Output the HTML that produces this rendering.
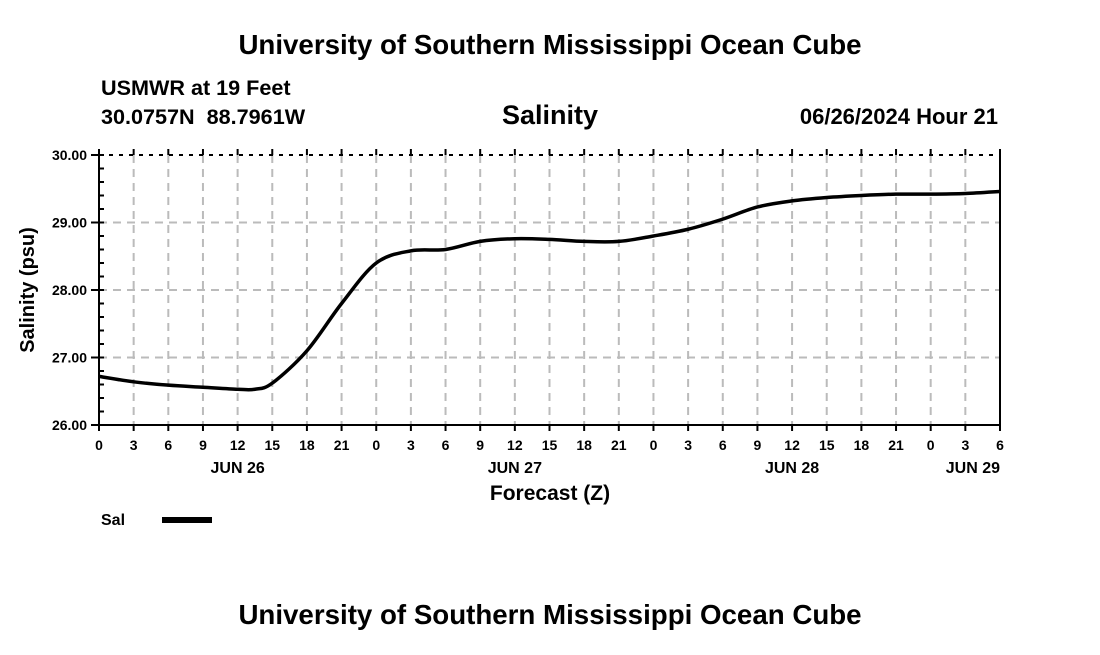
<!DOCTYPE html>
<html><head><meta charset="utf-8"><style>
body{margin:0;background:#fff;width:1100px;height:650px;overflow:hidden;font-family:"Liberation Sans",sans-serif}
</style></head><body>
<svg id="c" width="1100" height="650" font-family="Liberation Sans, sans-serif" font-weight="bold">
<text x="550" y="54" text-anchor="middle" font-size="27.7">University of Southern Mississippi Ocean Cube</text>
<text x="101" y="95" font-size="21.6">USMWR at 19 Feet</text>
<text x="101" y="124" font-size="21.6" xml:space="preserve">30.0757N  88.7961W</text>
<text x="550" y="124" text-anchor="middle" font-size="27">Salinity</text>
<text x="998" y="124" text-anchor="end" font-size="22">06/26/2024 Hour 21</text>
<text x="550" y="500" text-anchor="middle" font-size="21">Forecast (Z)</text>
<text transform="translate(34,290) rotate(-90)" text-anchor="middle" font-size="20">Salinity (psu)</text>
<text x="101" y="525" font-size="16">Sal</text>
<rect x="162" y="517" width="50" height="6" fill="#000"/>
<text x="550" y="624" text-anchor="middle" font-size="27.7">University of Southern Mississippi Ocean Cube</text>
<g id="g"></g>
</svg>
<script>
const hours=[0,3,6,9,12,13.5,15,18,21,24,27,30,33,36,39,42,45,48,51,54,57,60,63,66,69,72,75,78];
const sal=[26.72,26.64,26.59,26.56,26.53,26.53,26.62,27.1,27.8,28.4,28.58,28.6,28.72,28.76,28.75,28.72,28.72,28.8,28.9,29.05,29.23,29.32,29.37,29.40,29.42,29.42,29.43,29.46];
const yTicks=[26,27,28,29,30];
const xTickLabels=["0","3","6","9","12","15","18","21","0","3","6","9","12","15","18","21","0","3","6","9","12","15","18","21","0","3","6"];
const dayLabels=["JUN 26","JUN 27","JUN 28","JUN 29"];
const dayHours=[12,36,60,78];
const X0=99,X1=1000,Y0=425,Y1=155;
const xs=h=>X0+(X1-X0)*h/78, ys=v=>Y0-(Y0-Y1)*(v-26)/4;
const g=document.getElementById('g'),NS="http://www.w3.org/2000/svg";
function mk(t,a){const e=document.createElementNS(NS,t);for(const k in a)e.setAttribute(k,a[k]);g.appendChild(e);return e;}
xTickLabels.forEach((l,i)=>{const x=xs(i*3);
 if(i>0&&i<xTickLabels.length-1){const e=mk('line',{x1:x,x2:x,y1:Y1,y2:Y0,stroke:'#bbb','stroke-width':2,'stroke-dasharray':'8,6'});
 
 }
 const t=mk('line',{x1:x,x2:x,y1:Y1-6,y2:Y1,stroke:'#000','stroke-width':2});
 
 
 const b=mk('line',{x1:x,x2:x,y1:Y0,y2:Y0+6,stroke:'#000','stroke-width':2});
 
 
 const tx=mk('text',{x:x,y:450,'text-anchor':'middle','font-size':14});tx.textContent=l;
 
 });
dayLabels.forEach((l,i)=>{const anchor=i==3?'end':'middle';const x=i==3?X1:xs(dayHours[i]);
 const t=mk('text',{x:x,y:473,'text-anchor':anchor,'font-size':16});t.textContent=l;
 
 });
yTicks.forEach(v=>{const y=ys(v);
 if(v>26&&v<30){const e=mk('line',{x1:X0,x2:X1,y1:y,y2:y,stroke:'#bbb','stroke-width':2,'stroke-dasharray':'8,6'});
 
 }
 const t=mk('text',{x:87,y:y+5,'text-anchor':'end','font-size':14});t.textContent=v.toFixed(2);
 
 
 const k=mk('line',{x1:X0-8,x2:X0,y1:y,y2:y,stroke:'#000','stroke-width':2});
 
 });
for(let v=26.2;v<30;v+=0.2){const y=ys(v);const k=mk('line',{x1:X0,x2:X0+5,y1:y,y2:y,stroke:'#000','stroke-width':2});
 
 }
const topBorder=mk('line',{x1:X0,x2:X1,y1:Y1,y2:Y1,stroke:'#000','stroke-width':2,'stroke-dasharray':'4,6'});


const fr=mk('path',{d:`M${X0},${Y1}V${Y0}H${X1}V${Y1}`,fill:'none',stroke:'#000','stroke-width':2});


const P=hours.map((h,i)=>[xs(h),ys(sal[i])]);
let d=`M${P[0][0]},${P[0][1]}`;
for(let i=0;i<P.length-1;i++){const p0=P[Math.max(0,i-1)],p1=P[i],p2=P[i+1],p3=P[Math.min(P.length-1,i+2)];
 d+=`C${p1[0]+(p2[0]-p0[0])/6},${p1[1]+(p2[1]-p0[1])/6} ${p2[0]-(p3[0]-p1[0])/6},${p2[1]-(p3[1]-p1[1])/6} ${p2[0]},${p2[1]}`;}
const ln=mk('path',{d:d,fill:'none',stroke:'#000','stroke-width':3.5,'stroke-linejoin':'round'});


</script>
</body></html>
